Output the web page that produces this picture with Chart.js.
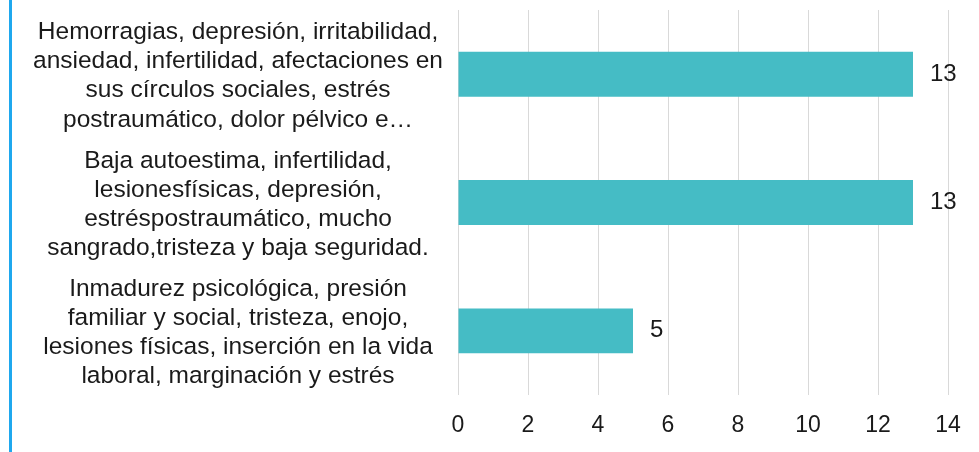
<!DOCTYPE html>
<html>
<head>
<meta charset="utf-8">
<script src="https://cdn.jsdelivr.net/npm/chart.js@4.4.1/dist/chart.umd.min.js"></script>
<style>
    html, body { margin: 0; padding: 0; background: #ffffff; }
    #wrap { position: relative; width: 979px; height: 452px; }
    #edge { position: absolute; left: 9px; top: 0; width: 3px; height: 452px; background: #1fa8ee; }
</style>
</head>
<body>
<div id="wrap">
    <canvas id="impactChart" width="979" height="452"></canvas>
    <div id="edge"></div>
</div>
<script>
const categories = [
    ['Hemorragias, depresión, irritabilidad,', 'ansiedad, infertilidad, afectaciones en', 'sus círculos sociales, estrés', 'postraumático, dolor pélvico e…'],
    ['Baja autoestima, infertilidad,', 'lesionesfísicas, depresión,', 'estréspostraumático, mucho', 'sangrado,tristeza y baja seguridad.'],
    ['Inmadurez psicológica, presión', 'familiar y social, tristeza, enojo,', 'lesiones físicas, inserción en la vida', 'laboral, marginación y estrés']
];
const counts = [13, 13, 5];
const axisMax = 14;
const axisStep = 2;

const FONT = "'Liberation Sans', Arial, sans-serif";

// writes each value just right of its bar
const valueLabels = {
    id: 'valueLabels',
    afterDatasetsDraw: function(chart) {
        const ctx = chart.ctx;
        const meta = chart.getDatasetMeta(0);
        ctx.save();
        ctx.font = '24px ' + FONT;
        ctx.fillStyle = '#1a1a1a';
        ctx.textAlign = 'left';
        ctx.textBaseline = 'middle';
        meta.data.forEach(function(bar, i) {
            ctx.fillText(String(counts[i]), bar.x + 17, bar.y);
        });
        ctx.restore();
    }
};

const ctx = document.getElementById('impactChart');
new Chart(ctx, {
    type: 'bar',
    data: {
        labels: categories,
        datasets: [{
            data: counts,
            backgroundColor: '#45bcc5',
            borderWidth: 0,
            barPercentage: 0.35,
            categoryPercentage: 1
        }]
    },
    options: {
        indexAxis: 'y',
        responsive: false,
        animation: false,
        layout: {
            padding: { left: 0, right: 31, top: 10, bottom: 0 }
        },
        plugins: {
            legend: { display: false },
            tooltip: { enabled: false }
        },
        scales: {
            x: {
                min: 0,
                max: axisMax,
                border: { display: false },
                grid: {
                    color: '#d9d9d9',
                    lineWidth: 1,
                    drawTicks: false
                },
                afterFit: function(scale) {
                    scale.height = 57;
                    scale.paddingBottom = 0;
                },
                ticks: {
                    stepSize: axisStep,
                    padding: 17,
                    color: '#1a1a1a',
                    font: { family: FONT, size: 23 }
                }
            },
            y: {
                border: { display: false },
                grid: { display: false, drawTicks: false },
                afterFit: function(scale) {
                    scale.width = 458;
                    // the tall labels must not push the plot inward
                    scale.paddingTop = 0;
                    scale.paddingBottom = 0;
                },
                ticks: {
                    crossAlign: 'center',
                    padding: 15,
                    labelOffset: 2,
                    color: '#1a1a1a',
                    font: { family: FONT, size: 24.5, lineHeight: 1.19 }
                }
            }
        }
    },
    plugins: [valueLabels]
});
</script>
</body>
</html>
